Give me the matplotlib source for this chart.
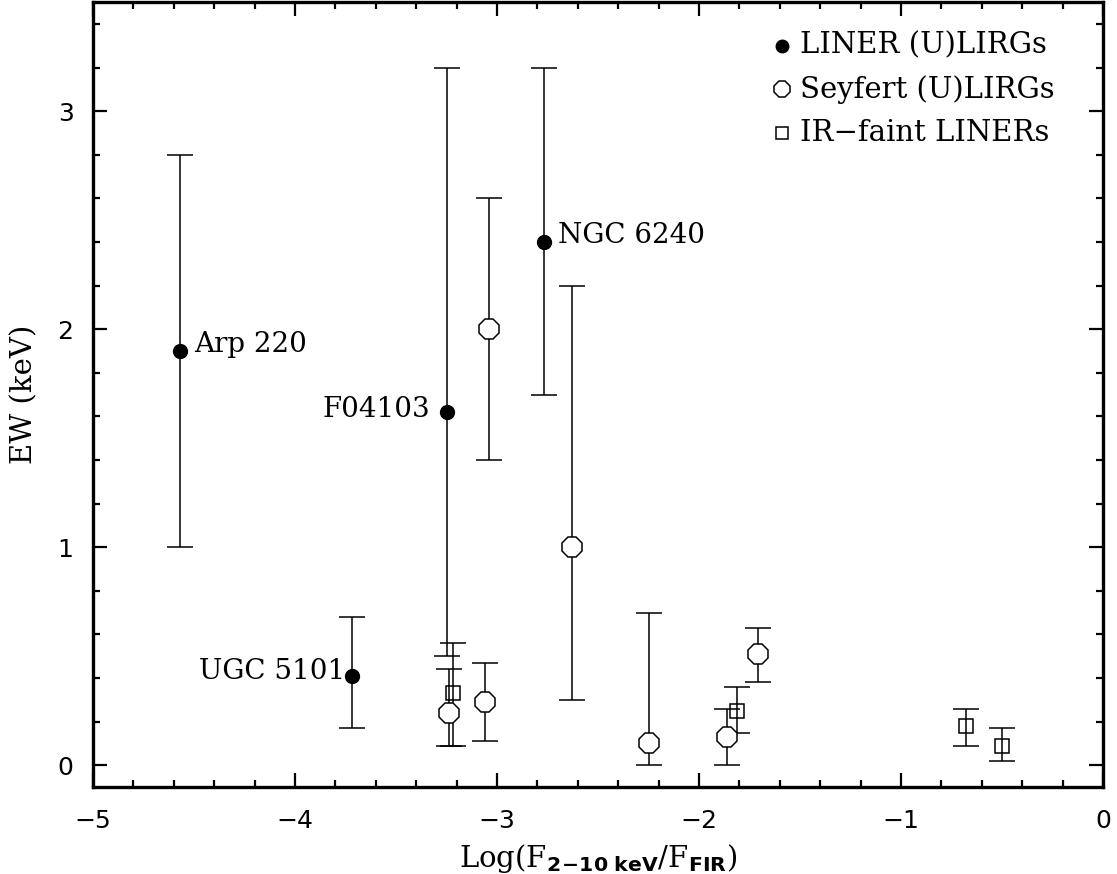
import numpy as np
import matplotlib.pyplot as plt
from matplotlib.ticker import MultipleLocator

# LINER (U)LIRGs
liner_x = [-4.57, -3.72, -3.25, -2.77]
liner_y = [1.90, 0.41, 1.62, 2.40]
liner_lo = [1.00, 0.17, 0.50, 1.70]
liner_hi = [2.80, 0.68, 3.20, 3.20]
liner_names = ['Arp 220', 'UGC 5101', 'F04103', 'NGC 6240']

# Seyfert (U)LIRGs
sey_x = [-3.04, -2.63, -3.24, -3.06, -2.25, -1.86, -1.71]
sey_y = [2.00, 1.00, 0.24, 0.29, 0.10, 0.13, 0.51]
sey_lo = [1.40, 0.30, 0.09, 0.11, 0.00, 0.00, 0.38]
sey_hi = [2.60, 2.20, 0.44, 0.47, 0.70, 0.26, 0.63]

# IR-faint LINERs
irf_x = [-3.22, -1.81, -0.68, -0.50]
irf_y = [0.33, 0.25, 0.18, 0.09]
irf_lo = [0.09, 0.15, 0.09, 0.02]
irf_hi = [0.56, 0.36, 0.26, 0.17]

plt.rcParams['font.family'] = 'DejaVu Serif'

fig = plt.figure(figsize=(11.17, 8.74), dpi=100)
ax = fig.add_axes([0.0833, 0.0995, 0.9042, 0.898])


def yerr(y, lo, hi):
    y = np.array(y)
    return [y - np.array(lo), np.array(hi) - y]


ekw = dict(ecolor='black', elinewidth=1.1, capsize=9.5, capthick=1.1, linestyle='none')
ax.errorbar(liner_x, liner_y, yerr=yerr(liner_y, liner_lo, liner_hi), fmt='o',
            color='black', ms=10, **ekw)
ax.errorbar(sey_x, sey_y, yerr=yerr(sey_y, sey_lo, sey_hi), fmt='8',
            mfc='white', mec='black', mew=1.1, ms=15, **ekw)
ax.errorbar(irf_x, irf_y, yerr=yerr(irf_y, irf_lo, irf_hi), fmt='s',
            mfc='none', mec='black', mew=1.1, ms=10, **ekw)

# legend drawn by hand
leg_x = -1.59
leg_y = [3.30, 3.10, 2.90]
leg_m = [dict(marker='o', color='black', ms=9),
         dict(marker='8', mfc='white', mec='black', mew=1.1, ms=13),
         dict(marker='s', mfc='white', mec='black', mew=1.1, ms=9)]
leg_t = ['LINER (U)LIRGs', 'Seyfert (U)LIRGs', 'IR\u2212faint LINERs']
for yy, m, t in zip(leg_y, leg_m, leg_t):
    ax.plot([leg_x], [yy], linestyle='none', **m)
    ax.text(leg_x + 0.09, yy, t, fontsize=21, va='center', ha='left')

# object names
ax.text(liner_x[0] + 0.07, liner_y[0] + 0.03, liner_names[0], fontsize=20, va='center', ha='left')
ax.text(liner_x[1] - 0.03, liner_y[1] + 0.02, liner_names[1], fontsize=20, va='center', ha='right')
ax.text(liner_x[2] - 0.08, liner_y[2] + 0.01, liner_names[2], fontsize=20, va='center', ha='right')
ax.text(liner_x[3] + 0.07, liner_y[3] + 0.03, liner_names[3], fontsize=20, va='center', ha='left')

ax.set_xlim(-5, 0)
ax.set_ylim(-0.1, 3.5)
ax.xaxis.set_major_locator(MultipleLocator(1))
ax.xaxis.set_minor_locator(MultipleLocator(0.2))
ax.yaxis.set_major_locator(MultipleLocator(1))
ax.yaxis.set_minor_locator(MultipleLocator(0.2))
ax.tick_params(which='both', direction='in', top=True, right=True, width=1.6,
               labelsize=18)
ax.tick_params(axis='x', pad=16)
ax.tick_params(axis='y', pad=14)
ax.tick_params(which='major', length=10)
ax.tick_params(which='minor', length=5)
for lab in ax.get_xticklabels() + ax.get_yticklabels():
    lab.set_family('DejaVu Sans')
for s in ax.spines.values():
    s.set_linewidth(2.4)

ax.set_xlabel(r'Log(F$_{\mathbf{2\!-\!10\ keV}}$/F$_{\mathbf{FIR}}$)', fontsize=21, labelpad=6)
ax.set_ylabel('EW (keV)', fontsize=21, labelpad=14)

fig.savefig('out.png', dpi=100)
